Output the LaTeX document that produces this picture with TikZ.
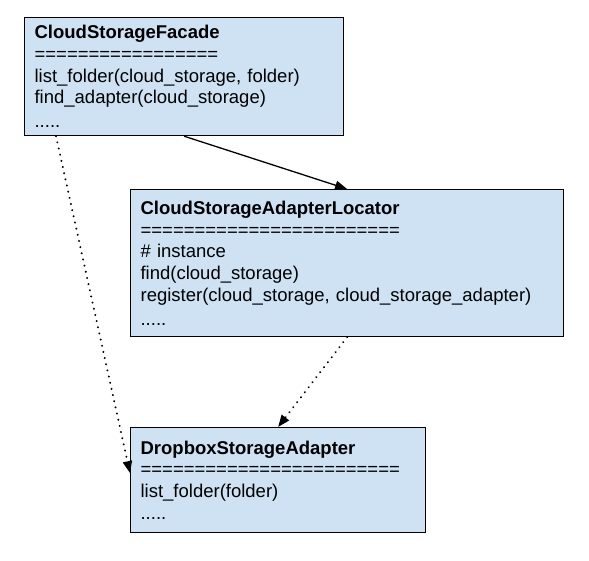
\documentclass[tikz,border=0pt]{standalone}
\usepackage{fontspec}
\setmainfont{Liberation Sans}
\usetikzlibrary{arrows.meta,calc}

\definecolor{boxblue}{RGB}{207,226,243}

\tikzset{
	classbox/.style={draw=black, line width=1.2pt, fill=boxblue, anchor=north west,
		inner xsep=10pt, inner ysep=0pt, align=left,
		font=\fontsize{18.5}{21.7}\selectfont},
	uses/.style={line width=1.3pt, -{Triangle[length=12pt,width=9pt]}},
	depends/.style={line width=2.2pt, dash pattern=on 0.01pt off 6.3pt, line cap=round,
		-{Triangle[length=12pt,width=9pt]}}
}

\begin{document}
\begin{tikzpicture}[x=1pt,y=-1pt]

	%Background
	\useasboundingbox[fill=white] (0,0) rectangle (589,561);

	%Facade
	\node[classbox, text width=299pt, minimum height=118pt] (facade) at (24,17)
		{\textbf{CloudStorageFacade}\\
		=================\\
		list\_folder(cloud\_storage, folder)\\
		find\_adapter(cloud\_storage)\\[2pt]
		.....};

	%Locator
	\node[classbox, text width=413pt, minimum height=147pt] (locator) at (130,189)
		{\textbf{CloudStorageAdapterLocator}\\
		========================\\
		\# instance\\
		find(cloud\_storage)\\
		register(cloud\_storage, cloud\_storage\_adapter)\\[2pt]
		.....};

	%Adapter
	\node[classbox, text width=275pt, minimum height=105pt] (dropbox) at (130,427)
		{\textbf{DropboxStorageAdapter}\\
		========================\\
		list\_folder(folder)\\
		.....};

	%Connectors
	\draw[uses] (facade.south) -- (locator.north);
	\draw[depends] ($(facade.south west)!0.1!(facade.south east)$) -- ([yshift=7pt]dropbox.west);
	\draw[depends] (locator.south) -- (dropbox.north);

\end{tikzpicture}
\end{document}
